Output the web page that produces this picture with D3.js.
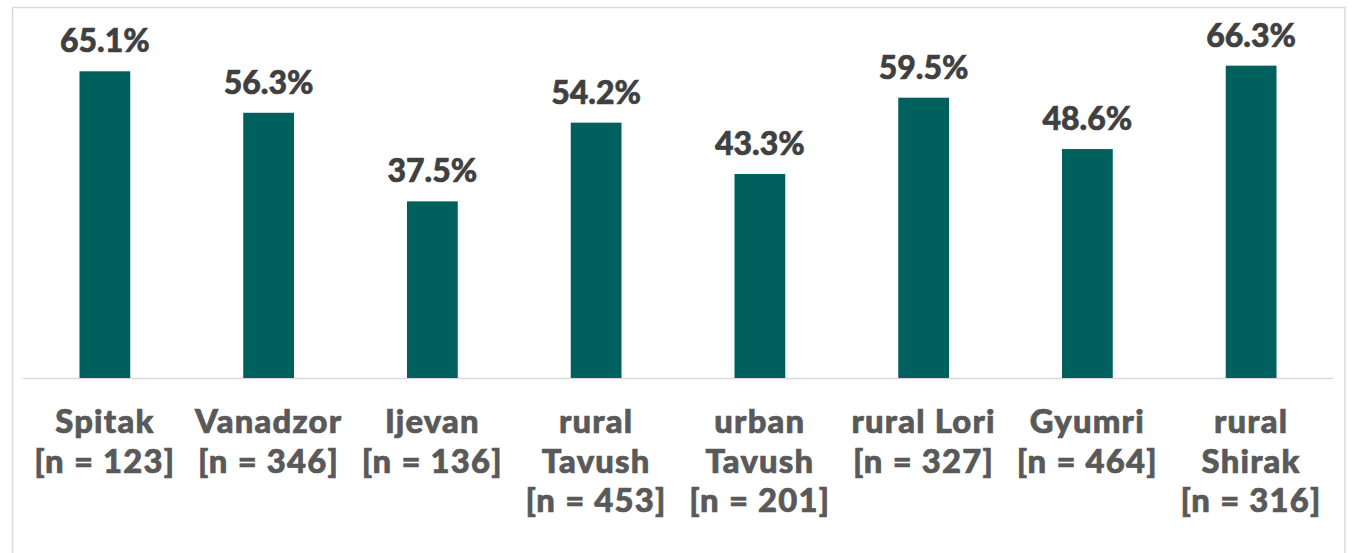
<!DOCTYPE html>
<html>
<head>
<meta charset="utf-8">
<script src="https://cdn.jsdelivr.net/npm/d3@7"></script>
<style>
  html, body { margin: 0; padding: 0; background: #fff; }
  svg { display: block; }
  text { font-family: "Lato", "Open Sans", sans-serif; font-weight: 900; }
</style>
</head>
<body>
<svg id="chart" width="1357" height="553"></svg>
<script>
const categories = ["Spitak", "Vanadzor", "Ijevan", "rural Tavush", "urban Tavush", "rural Lori", "Gyumri", "rural Shirak"];
const sampleSizes = [123, 346, 136, 453, 201, 327, 464, 316];
const labelLines = [
  ["Spitak", "[n = 123]"],
  ["Vanadzor", "[n = 346]"],
  ["Ijevan", "[n = 136]"],
  ["rural", "Tavush", "[n = 453]"],
  ["urban", "Tavush", "[n = 201]"],
  ["rural Lori", "[n = 327]"],
  ["Gyumri", "[n = 464]"],
  ["rural", "Shirak", "[n = 316]"]
];
const values = [65.1, 56.3, 37.5, 54.2, 43.3, 59.5, 48.6, 66.3];

const svg = d3.select("#chart");

// outer border
svg.append("rect")
  .attr("x", 12.5).attr("y", 7.5)
  .attr("width", 1345 - 12.5).attr("height", 560)
  .attr("fill", "#fff").attr("stroke", "#d9d9d9").attr("stroke-width", 1.5);

const x = d3.scaleBand().domain(categories).range([23, 1333]).paddingInner(0.69).paddingOuter(0.345);
const y = d3.scaleLinear().domain([0, 70]).range([378, 378 - 70 * 4.711]);

// baseline
svg.append("line")
  .attr("x1", 23).attr("x2", 1333)
  .attr("y1", y(0) + 0.5).attr("y2", y(0) + 0.5)
  .attr("stroke", "#d9d9d9").attr("stroke-width", 1.5);

svg.selectAll("rect.bar").data(values).join("rect")
  .attr("class", "bar")
  .attr("x", (d, i) => x(categories[i]))
  .attr("width", x.bandwidth())
  .attr("y", d => y(d))
  .attr("height", d => y(0) - y(d))
  .attr("fill", "#00605e");

svg.selectAll("text.val").data(values).join("text")
  .attr("class", "val")
  .attr("x", (d, i) => x(categories[i]) + x.bandwidth() / 2)
  .attr("y", d => y(d) - 19)
  .attr("text-anchor", "middle")
  .attr("font-size", 32)
  .attr("fill", "#404040")
  .attr("stroke", "#404040").attr("stroke-width", 0.6)
  .text(d => d.toFixed(1) + "%");

const lineStep = 39.5;
labelLines.forEach((lines, i) => {
  const cx = x(categories[i]) + x.bandwidth() / 2;
  svg.selectAll(null).data(lines).join("text")
    .attr("class", "cat")
    .attr("x", cx)
    .attr("y", (d, j) => 433 + j * lineStep)
    .attr("text-anchor", "middle")
    .attr("font-size", 32.8)
    .attr("letter-spacing", 1.2)
    .attr("fill", "#595959")
    .attr("stroke", "#595959").attr("stroke-width", 0.7)
    .text(d => d);
});
</script>
</body>
</html>
